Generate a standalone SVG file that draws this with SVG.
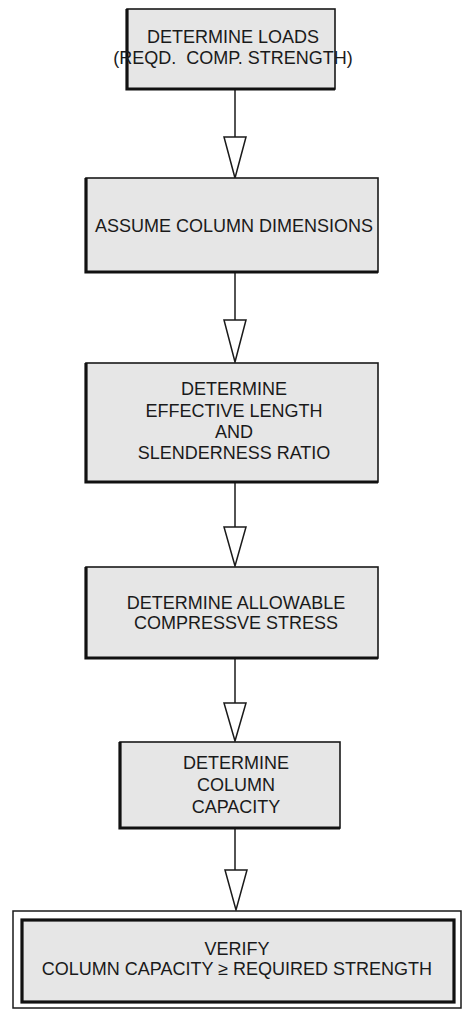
<svg xmlns="http://www.w3.org/2000/svg" width="463" height="1010" viewBox="0 0 463 1010">
  <style>
    .box { fill: #e6e6e6; stroke: #1a1a1a; stroke-width: 1.6; }
    .edge { stroke: #111; stroke-width: 3.2; fill: none; }
    .frame { fill: #ffffff; stroke: #1a1a1a; stroke-width: 1.5; }
    .inner { fill: #e6e6e6; stroke: #111; stroke-width: 3.2; }
    .label { font-family: "Liberation Sans", Arial, sans-serif; font-size: 18px; fill: #1a1a1a; text-anchor: middle; white-space: pre; }
    .link { stroke: #1a1a1a; stroke-width: 1.5; fill: none; }
    .head { fill: #ffffff; stroke: #1a1a1a; stroke-width: 1.5; stroke-linejoin: miter; }
  </style>
  <rect width="463" height="1010" fill="#ffffff"/>

  <g id="connectors">
    <line class="link" x1="235" y1="89" x2="235" y2="137"/>
    <polygon class="head" points="224,137 246,137 235,178"/>
    <line class="link" x1="235" y1="272" x2="235" y2="320"/>
    <polygon class="head" points="224,320 246,320 235,362"/>
    <line class="link" x1="235" y1="483" x2="235" y2="527"/>
    <polygon class="head" points="224,527 246,527 235,566"/>
    <line class="link" x1="235" y1="659" x2="235" y2="703"/>
    <polygon class="head" points="224,703 246,703 235,741"/>
    <line class="link" x1="235" y1="829" x2="235" y2="870"/>
    <polygon class="head" points="225,870 247,870 236,910"/>
  </g>

  <g id="loads">
    <rect class="box" x="127" y="9" width="208" height="80"/>
    <path class="edge" d="M127,9 V89 H335"/>
    <text class="label" x="233" y="43">DETERMINE LOADS</text>
    <text class="label" x="233" y="64" xml:space="preserve">(REQD.  COMP. STRENGTH)</text>
  </g>

  <g id="dimensions">
    <rect class="box" x="86" y="178" width="292" height="94"/>
    <path class="edge" d="M86,178 V272 H378"/>
    <text class="label" x="234" y="232">ASSUME COLUMN DIMENSIONS</text>
  </g>

  <g id="slenderness">
    <rect class="box" x="86" y="363" width="292" height="119"/>
    <path class="edge" d="M86,363 V482 H378"/>
    <text class="label" x="234" y="395">DETERMINE</text>
    <text class="label" x="234" y="417">EFFECTIVE LENGTH</text>
    <text class="label" x="234" y="438">AND</text>
    <text class="label" x="234" y="459">SLENDERNESS RATIO</text>
  </g>

  <g id="allowable">
    <rect class="box" x="86" y="567" width="292" height="91"/>
    <path class="edge" d="M86,567 V658 H378"/>
    <text class="label" x="236" y="609">DETERMINE ALLOWABLE</text>
    <text class="label" x="236" y="629">COMPRESSVE STRESS</text>
  </g>

  <g id="capacity">
    <rect class="box" x="120" y="742" width="220" height="86"/>
    <path class="edge" d="M120,742 V828 H340"/>
    <text class="label" x="236" y="769">DETERMINE</text>
    <text class="label" x="236" y="791">COLUMN</text>
    <text class="label" x="236" y="813">CAPACITY</text>
  </g>

  <g id="verify">
    <rect class="frame" x="13" y="911" width="448" height="97"/>
    <rect class="inner" x="22" y="920" width="432" height="82"/>
    <text class="label" x="237" y="955">VERIFY</text>
    <text class="label" x="237" y="975">COLUMN CAPACITY ≥ REQUIRED STRENGTH</text>
  </g>
</svg>
